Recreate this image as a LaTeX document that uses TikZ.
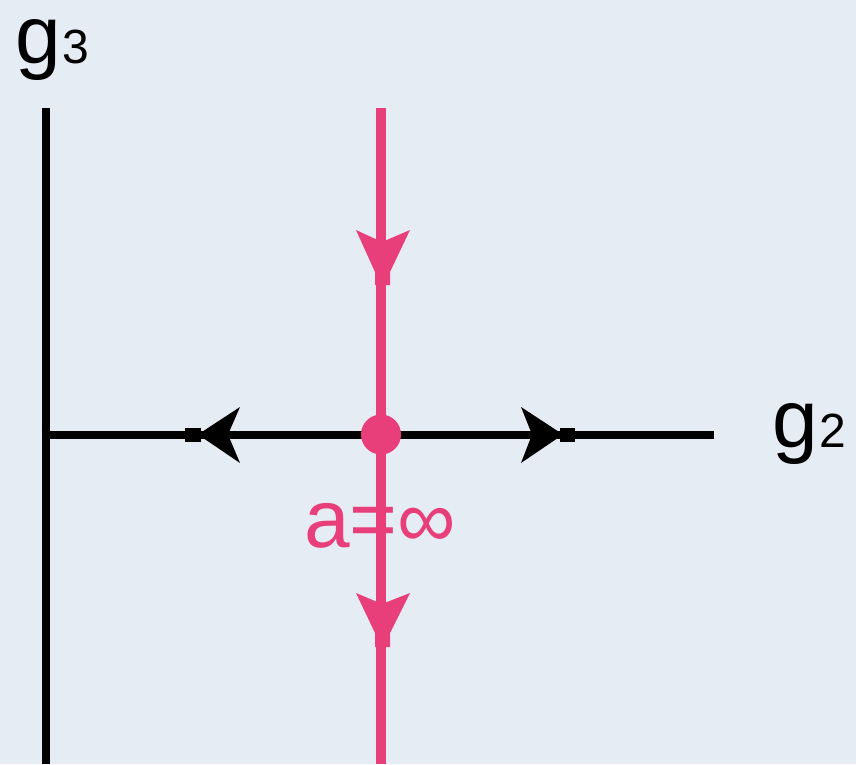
\documentclass[tikz,border=0pt]{standalone}
\usepackage{fontspec}
\setmainfont{Liberation Sans}
\definecolor{paper}{RGB}{230,236,243}
\definecolor{rose}{RGB}{232,62,122}
\begin{document}
\begin{tikzpicture}[x=1pt,y=-1pt,
  blackline/.style={draw=black,line width=8pt},
  roseline/.style={draw=rose,line width=10pt},
  lbl/.style={inner sep=0pt,anchor=base west,font=\fontsize{82}{90}\selectfont}]
\fill[paper] (0,0) rectangle (856,764);
\useasboundingbox (0,0) rectangle (856,764);
% coordinates
\coordinate (vtop) at (45.5,108);
\coordinate (vbot) at (45.5,764);
\coordinate (hl) at (41.5,434.5);
\coordinate (hr) at (714,434.5);
\coordinate (ptop) at (381,108);
\coordinate (pbot) at (381,764);
\coordinate (fix) at (381,434.5);
% lines
\draw[blackline] (vtop) -- (vbot);
\draw[blackline] (hl) -- (hr);
\draw[roseline] (ptop) -- (pbot);
% black arrowheads
\fill[black] (198,434.5) -- (240,407) -- (228,434.5) -- (240,463) -- cycle;
\fill[black] (185,427.5) rectangle (201,441.5);
\fill[black] (563,434.5) -- (521,407) -- (532,434.5) -- (521,463) -- cycle;
\fill[black] (560,427.5) rectangle (575,441.5);
% rose arrowheads
\fill[rose] (356,230) -- (382,242) -- (410,230) -- (390,272) -- (390,285) -- (375,285) -- (375,272) -- cycle;
\fill[rose] (356,593) -- (382,604) -- (410,593) -- (390,633) -- (390,647) -- (375,647) -- (375,633) -- cycle;
% fixed point
\node[circle,fill=rose,minimum size=40pt,inner sep=0pt] (dot) at (fix) {};
% labels
\node[lbl] (g3) at (15,63) {g\kern2pt\fontsize{48}{52}\selectfont 3};
\node[lbl] (g2) at (772,447) {g\kern2pt\fontsize{48}{52}\selectfont 2};
\node[lbl,text=rose] (ainf) at (304,547) {a=∞};
\end{tikzpicture}
\end{document}
